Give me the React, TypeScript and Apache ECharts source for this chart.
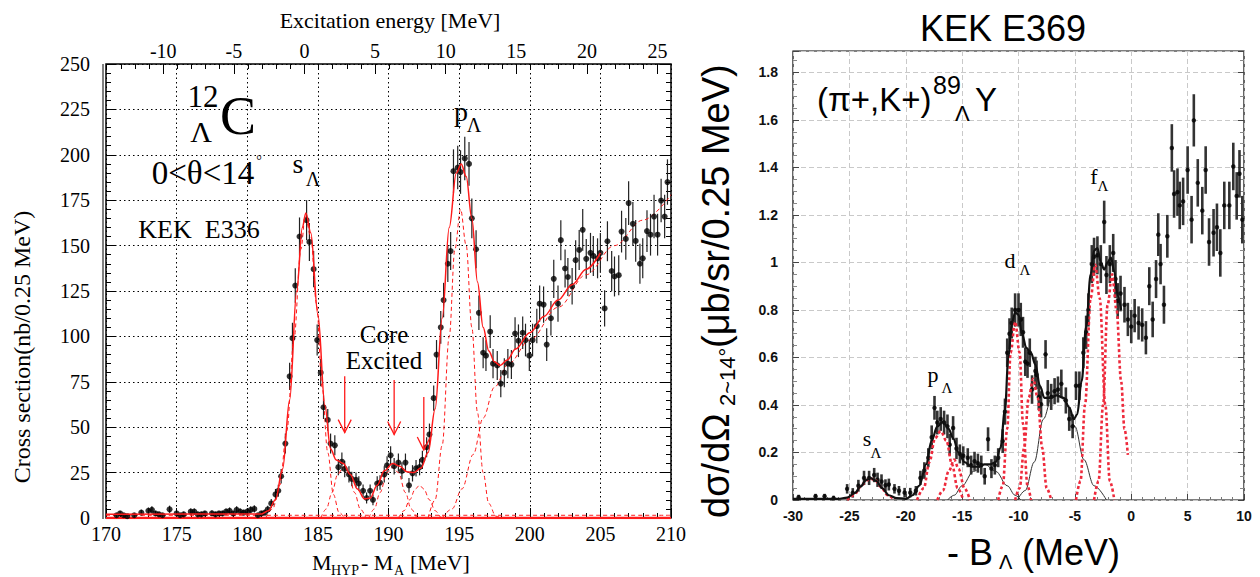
import React, { useEffect, useRef } from "react";
import * as echarts from "echarts";

// ---------- LEFT PANEL DATA (12C, KEK E336) ----------
// [M_HYP - M_A (MeV), cross section (nb/0.25 MeV), error]
const leftPoints: number[][] = [
  [170.75, 1.5, 1.2], [171.0, 2.5, 1.5], [171.25, 1.5, 1.2], [171.5, 1.0, 1.0], [172.0, 1.5, 1.2],
  [172.5, 3.0, 1.6], [173.0, 4.0, 1.8], [173.25, 4.5, 2.0], [173.5, 2.5, 1.5], [173.75, 2.0, 1.4],
  [174.0, 1.5, 1.2], [174.5, 4.8, 2.0], [175.0, 2.5, 1.5], [175.25, 1.5, 1.2], [175.5, 2.0, 1.4],
  [176.0, 3.5, 1.7], [176.25, 3.5, 1.7], [176.5, 2.0, 1.4], [176.75, 2.0, 1.4], [177.0, 2.5, 1.5],
  [177.5, 2.6, 1.5], [177.75, 2.0, 1.4], [178.0, 2.5, 1.5], [178.25, 2.5, 1.5], [178.5, 3.5, 1.7],
  [178.75, 4.0, 1.8], [179.0, 2.5, 1.5], [179.25, 4.5, 2.0], [179.5, 3.5, 1.7], [179.75, 3.0, 1.6],
  [180.0, 3.5, 1.7], [180.25, 4.5, 2.0], [180.5, 5.0, 2.0], [180.75, 1.5, 1.2], [181.0, 2.5, 1.5],
  [181.25, 3.0, 1.6],
  [181.45, 4.7, 2], [181.7, 8, 2.5], [182.0, 13, 3], [182.2, 15, 3.3], [182.4, 23, 4], [182.7, 41, 5.5],
  [183.0, 78, 7.5], [183.2, 99, 8.5], [183.4, 128, 9.5], [183.7, 155, 10.5], [184.2, 164, 11],
  [184.4, 152, 10.5], [184.7, 137, 10], [184.95, 98, 8.5], [185.2, 80, 7.5], [185.4, 61, 6.5],
  [185.7, 54, 6], [185.9, 41, 5.5], [186.2, 40, 5.5], [186.45, 28, 4.5], [186.7, 31, 5], [186.9, 27, 4.5],
  [187.2, 24, 4.5], [187.4, 21.5, 4], [187.7, 21, 4], [187.9, 19, 4], [188.2, 15, 3.5], [188.45, 11, 3],
  [188.7, 15, 3.5], [188.9, 10, 3], [189.2, 19, 4], [189.4, 19.5, 4], [189.7, 24, 4.5], [189.9, 29, 5],
  [190.15, 34.5, 5], [190.4, 28.5, 4.5], [190.7, 30.5, 5], [190.95, 26, 4.5], [191.2, 30.5, 5],
  [191.45, 18, 4], [191.7, 24.6, 4.5], [191.95, 27.4, 4.5], [192.2, 28, 4.5], [192.4, 32, 5],
  [192.7, 39, 5.5], [192.9, 46, 6], [193.2, 66, 7], [193.4, 90, 8], [193.7, 105, 9], [193.9, 120, 9.5],
  [194.2, 140, 10], [194.4, 147, 10.5], [194.6, 191, 12], [194.9, 193, 12], [195.1, 190.5, 12],
  [195.4, 198, 12], [195.7, 195, 12], [195.9, 165, 11], [196.2, 148, 10.5], [196.4, 113, 9.5],
  [196.7, 91, 8.5], [196.9, 89.4, 8.5], [197.2, 102.6, 9], [197.4, 85, 8], [197.7, 84, 8],
  [197.95, 74, 7.5], [198.2, 80, 8], [198.45, 85, 8], [198.7, 84.5, 8], [198.96, 101.6, 9],
  [199.2, 97.6, 9], [199.5, 102, 9], [199.7, 98, 9], [199.97, 89.4, 8.5], [200.2, 98, 9],
  [200.5, 105.7, 9.5], [200.7, 118, 10], [200.98, 117.5, 10], [201.2, 95.5, 9], [201.5, 110, 9.5],
  [201.7, 131.7, 10.5], [202.0, 118, 10], [202.2, 153, 11], [202.5, 137.4, 10.5], [202.7, 132.7, 10.5],
  [203.0, 127.6, 10], [203.25, 142, 11], [203.5, 147.6, 11], [203.75, 158.7, 11.5], [204.0, 142.7, 11],
  [204.3, 146, 11], [204.5, 144.3, 11], [204.8, 143, 11], [205.0, 146, 11], [205.3, 115.4, 10],
  [205.5, 152.4, 11], [205.8, 136, 11], [206.0, 133, 11], [206.3, 133.7, 11], [206.5, 157.7, 11.5],
  [206.8, 153.7, 11.5], [207.0, 173.4, 12], [207.3, 162, 12], [207.5, 152.6, 11.5], [207.8, 140, 11],
  [208.0, 143, 11], [208.3, 158, 11.5], [208.55, 156, 11.5], [208.8, 166, 12], [209.05, 156, 11.5],
  [209.3, 174.8, 12], [209.55, 166, 12], [209.75, 185, 12.5],
];

const leftFitTotal: number[][] = [
  [170, 2], [181, 2.2], [181.5, 4], [182, 10], [182.5, 27], [183, 65], [183.5, 125], [183.9, 160],
  [184.15, 168], [184.5, 157], [185, 112], [185.5, 62], [185.9, 38], [186.3, 32], [186.8, 30],
  [187.3, 24], [187.8, 16], [188.3, 10.5], [188.7, 11], [189.2, 18], [189.7, 26], [190.3, 30],
  [190.8, 28.5], [191.3, 25.5], [191.8, 25], [192.3, 27.5], [192.8, 36], [193.3, 60], [193.8, 110],
  [194.3, 160], [194.8, 190], [195.15, 195], [195.5, 188], [195.9, 165], [196.3, 130], [196.7, 105],
  [197.1, 92], [197.5, 86], [197.9, 84], [198.4, 87], [199, 93], [200, 102], [201, 111], [202, 120],
  [203, 128.5], [204, 137], [205, 146],
];
const leftCompS: number[][] = [
  [181.3, 0], [181.8, 5], [182.3, 18], [182.8, 48], [183.3, 98], [183.8, 148], [184.1, 166], [184.5, 155],
  [184.9, 118], [185.3, 72], [185.7, 36], [186.1, 13], [186.5, 3], [186.9, 0],
];
const leftCore1: number[][] = [
  [185.2, 0], [185.6, 5], [186.0, 14], [186.4, 24], [186.8, 28], [187.2, 24], [187.6, 14], [188.0, 5], [188.4, 0],
];
const leftCore2: number[][] = [
  [188.6, 0], [189.0, 5], [189.4, 14], [189.9, 25], [190.3, 28], [190.7, 25], [191.2, 14], [191.6, 5], [192.0, 0],
];
const leftCore3: number[][] = [
  [190.7, 0], [191.1, 4], [191.5, 10], [191.9, 16], [192.2, 18], [192.5, 16], [192.9, 10], [193.3, 4], [193.7, 0],
];
const leftCompP: number[][] = [
  [192.8, 0], [193.3, 10], [193.8, 40], [194.3, 100], [194.7, 148], [195.1, 170], [195.5, 150],
  [195.9, 105], [196.3, 58], [196.7, 25], [197.1, 8], [197.6, 1], [198, 0],
];
const leftBackground: number[][] = [
  [193.8, 0], [194.5, 5], [195.2, 16], [196, 35], [196.7, 55], [197.5, 72], [198.5, 85], [200, 98],
  [202, 116], [204, 134], [206, 150], [208, 164], [210, 178],
];
const leftFlat: number[][] = [[170, 1.5], [210, 1.5]];
const leftZero: number[][] = [[170, 0], [210, 0]];
// arrows: [M, top value, tip value]
const leftArrows: number[][] = [[186.9, 78, 47], [190.4, 76, 46], [192.5, 66.6, 37.4]];

const leftXTicks = [170, 175, 180, 185, 190, 195, 200, 205, 210];
const topLabels = [-10, -5, 0, 5, 10, 15, 20, 25];
const topMinor = [-14, -13, -12, -11, -10, -9, -8, -7, -6, -5, -4, -3, -2, -1, 0, 1, 2, 3, 4, 5, 6, 7, 8, 9, 10,
  11, 12, 13, 14, 15, 16, 17, 18, 19, 20, 21, 22, 23, 24, 25];

// ---------- RIGHT PANEL DATA (89Y, KEK E369) ----------
// [-B_Lambda (MeV), dsigma/dOmega (ub/sr/0.25MeV), error]
const rightPoints: number[][] = [
  [-29.5, 0.012, 0.01], [-28, 0.016, 0.01], [-27.2, 0.016, 0.01], [-26.4, 0.008, 0.01], [-25.2, 0.047, 0.02],
  [-24.7, 0.03, 0.02], [-24.2, 0.06, 0.025], [-23.7, 0.093, 0.03], [-23.25, 0.093, 0.03], [-22.8, 0.105, 0.03],
  [-22.5, 0.085, 0.03], [-22.15, 0.078, 0.03], [-21.8, 0.062, 0.025], [-21.5, 0.065, 0.025], [-21.0, 0.047, 0.02],
  [-20.6, 0.039, 0.02], [-20.1, 0.031, 0.02], [-19.6, 0.031, 0.02], [-19.1, 0.039, 0.02], [-18.7, 0.093, 0.03],
  [-18.35, 0.124, 0.035], [-18.0, 0.178, 0.04], [-17.7, 0.264, 0.05], [-17.45, 0.388, 0.05], [-17.2, 0.326, 0.05],
  [-16.9, 0.341, 0.05], [-16.6, 0.326, 0.05], [-16.3, 0.31, 0.05], [-16.1, 0.233, 0.045], [-15.8, 0.303, 0.05],
  [-15.5, 0.217, 0.045], [-15.2, 0.194, 0.04], [-14.9, 0.186, 0.04], [-14.5, 0.178, 0.04], [-14.2, 0.147, 0.04],
  [-13.9, 0.163, 0.04], [-13.6, 0.155, 0.04], [-13.3, 0.147, 0.04], [-13.0, 0.1, 0.035], [-12.7, 0.256, 0.05],
  [-12.4, 0.132, 0.04], [-12.1, 0.147, 0.04], [-11.8, 0.178, 0.04], [-11.4, 0.248, 0.05], [-11.2, 0.372, 0.055],
  [-11.0, 0.62, 0.06], [-10.8, 0.7, 0.065], [-10.6, 0.745, 0.065], [-10.3, 0.8, 0.07], [-10.0, 0.8, 0.07],
  [-9.8, 0.76, 0.07], [-9.6, 0.706, 0.065], [-9.4, 0.582, 0.06], [-9.2, 0.574, 0.06], [-9.0, 0.62, 0.06],
  [-8.8, 0.465, 0.06], [-8.5, 0.543, 0.06], [-8.4, 0.527, 0.06], [-8.2, 0.434, 0.055], [-8.0, 0.403, 0.055],
  [-7.6, 0.613, 0.06], [-7.4, 0.45, 0.055], [-7.1, 0.434, 0.055], [-6.8, 0.458, 0.055], [-6.5, 0.465, 0.055],
  [-6.2, 0.489, 0.06], [-5.8, 0.419, 0.055], [-5.5, 0.341, 0.05], [-5.2, 0.31, 0.05], [-4.9, 0.481, 0.06],
  [-4.6, 0.481, 0.06], [-4.25, 0.62, 0.065], [-4.0, 0.706, 0.07], [-3.8, 0.8, 0.07], [-3.5, 0.993, 0.08],
  [-3.3, 1.024, 0.08], [-3.0, 1.03, 0.08], [-2.7, 0.993, 0.08], [-2.4, 1.17, 0.09], [-2.2, 0.947, 0.08],
  [-1.9, 0.993, 0.08], [-1.6, 1.04, 0.08], [-1.4, 0.93, 0.08], [-1.2, 0.838, 0.075], [-0.95, 0.869, 0.075],
  [-0.6, 0.822, 0.075], [-0.3, 0.76, 0.07], [0.0, 0.73, 0.07], [0.3, 0.776, 0.07], [0.65, 0.745, 0.07],
  [0.97, 0.737, 0.07], [1.3, 0.683, 0.07], [1.6, 0.9, 0.08], [1.9, 0.76, 0.075], [2.2, 0.93, 0.08],
  [2.4, 1.117, 0.09], [2.6, 0.993, 0.085], [2.9, 0.822, 0.08], [3.2, 1.11, 0.09], [3.6, 1.482, 0.1],
  [3.8, 1.288, 0.1], [4.1, 1.296, 0.1], [4.3, 1.24, 0.1], [4.6, 1.257, 0.1], [5.0, 1.389, 0.1],
  [5.35, 1.18, 0.1], [5.55, 1.598, 0.11], [5.9, 1.335, 0.1], [6.3, 1.218, 0.1], [6.6, 1.389, 0.1],
  [6.9, 1.086, 0.1], [7.3, 1.125, 0.1], [7.6, 1.148, 0.1], [7.9, 1.04, 0.1], [8.25, 1.24, 0.1],
  [8.7, 1.24, 0.1], [9.05, 1.404, 0.1], [9.35, 1.28, 0.1], [9.6, 1.373, 0.1], [9.85, 1.18, 0.1],
];

const rightFitTotal: number[][] = [
  [-30, 0.005], [-26, 0.005], [-25.2, 0.01], [-24.5, 0.03], [-24, 0.057], [-23.5, 0.085], [-23.1, 0.092],
  [-22.6, 0.08], [-22.1, 0.05], [-21.5, 0.02], [-20.8, 0.008], [-20, 0.005], [-19.4, 0.02], [-18.8, 0.06],
  [-18.2, 0.15], [-17.7, 0.25], [-17.2, 0.31], [-16.7, 0.33], [-16.2, 0.3], [-15.8, 0.26], [-15.3, 0.2],
  [-14.8, 0.16], [-14.2, 0.14], [-13.6, 0.14], [-13, 0.15], [-12.5, 0.15], [-12, 0.16], [-11.6, 0.22],
  [-11.2, 0.38], [-10.9, 0.6], [-10.6, 0.74], [-10.3, 0.79], [-10.0, 0.78], [-9.7, 0.7], [-9.3, 0.64],
  [-8.9, 0.62], [-8.5, 0.57], [-8.1, 0.48], [-7.7, 0.43], [-7.2, 0.43], [-6.6, 0.44], [-6.0, 0.43],
  [-5.5, 0.39], [-5.1, 0.34], [-4.8, 0.36], [-4.4, 0.5], [-4.0, 0.73], [-3.6, 0.95], [-3.3, 1.05],
  [-3.0, 1.06], [-2.7, 1.0], [-2.4, 0.97], [-2.1, 1.0], [-1.8, 1.02], [-1.5, 0.96], [-1.2, 0.86], [-0.9, 0.8],
];
const rightCompS: number[][] = [
  [-25.2, 0], [-24.6, 0.02], [-24, 0.055], [-23.5, 0.083], [-23.1, 0.09], [-22.7, 0.083], [-22.2, 0.055], [-21.6, 0.02], [-21, 0],
];
const rightCompP1: number[][] = [
  [-19, 0], [-18.4, 0.05], [-17.9, 0.16], [-17.4, 0.26], [-16.9, 0.29], [-16.4, 0.25], [-15.9, 0.15], [-15.4, 0.05], [-14.9, 0],
];
const rightCompP2: number[][] = [
  [-17.2, 0], [-16.7, 0.04], [-16.2, 0.12], [-15.7, 0.17], [-15.3, 0.13], [-14.8, 0.05], [-14.3, 0],
];
const rightCompD1: number[][] = [
  [-11.8, 0], [-11.4, 0.06], [-11.0, 0.3], [-10.7, 0.62], [-10.3, 0.75], [-9.9, 0.62], [-9.6, 0.32], [-9.2, 0.06], [-8.9, 0],
];
const rightCompD2: number[][] = [
  [-10.3, 0], [-9.9, 0.05], [-9.5, 0.22], [-9.1, 0.43], [-8.7, 0.51], [-8.3, 0.43], [-7.9, 0.22], [-7.5, 0.05], [-7.1, 0],
];
const rightCompF1: number[][] = [
  [-4.9, 0], [-4.5, 0.08], [-4.1, 0.4], [-3.6, 0.85], [-3.2, 0.99], [-2.8, 0.85], [-2.3, 0.4], [-1.9, 0.08], [-1.5, 0],
];
const rightCompF2: number[][] = [
  [-3.3, 0], [-2.9, 0.08], [-2.5, 0.4], [-2.1, 0.82], [-1.7, 0.95], [-1.3, 0.8], [-0.9, 0.5], [-0.6, 0.3], [-0.3, 0.19],
];
const rightWideA: number[][] = [
  [-16.3, 0], [-15.7, 0.02], [-15, 0.06], [-14, 0.12], [-13, 0.15], [-12, 0.12], [-11, 0.06], [-10.3, 0.02], [-9.8, 0],
];
const rightWideB: number[][] = [
  [-10.1, 0], [-9.4, 0.04], [-8.6, 0.16], [-7.8, 0.34], [-7.0, 0.44], [-6.4, 0.45], [-5.8, 0.41], [-5.0, 0.31],
  [-4.2, 0.17], [-3.3, 0.06], [-2.2, 0],
];

const SERIF = '"Liberation Serif", "Times New Roman", serif';
const SANS = '"Liberation Sans", Arial, Helvetica, sans-serif';

function txt(text: string, x: number, y: number, size: number, family: string, extra: any = {}) {
  const align = extra.align || "center";
  return {
    type: "text",
    x,
    y,
    rotation: extra.rotation || 0,
    z: 100,
    style: {
      text,
      fontSize: size,
      fontFamily: family,
      fontWeight: extra.weight || "normal",
      fill: extra.fill || "#000",
      align,
      textAlign: align,
      verticalAlign: "middle",
      textVerticalAlign: "middle",
    },
  };
}

function errorBars(xi: number, yi: number, data: number[][], color: string, width: number) {
  return {
    type: "custom",
    xAxisIndex: xi,
    yAxisIndex: yi,
    data,
    encode: { x: 0, y: 1 },
    silent: true,
    z: 3,
    renderItem: (_p: any, api: any) => {
      const x = api.value(0);
      const y = api.value(1);
      const e = api.value(2);
      const a = api.coord([x, y - e]);
      const b = api.coord([x, y + e]);
      return {
        type: "line",
        shape: { x1: a[0], y1: a[1], x2: b[0], y2: b[1] },
        style: { stroke: color, lineWidth: width },
      };
    },
  };
}

function curve(xi: number, yi: number, data: number[][], color: string, width: number, type: any, z = 4) {
  return {
    type: "line",
    xAxisIndex: xi,
    yAxisIndex: yi,
    data,
    smooth: 0.35,
    smoothMonotone: "x",
    symbol: "none",
    showSymbol: false,
    silent: true,
    z,
    lineStyle: { color, width, type },
  };
}

const noLine = { show: false, onZero: false };

export default function App() {
  const ref = useRef<HTMLDivElement>(null);
  useEffect(() => {
    if (!ref.current) return;
    const chart = echarts.init(ref.current, undefined, { renderer: "svg" });
    const red = "#ff1a1a";
    const pink = "#ee2a3c";
    const option: any = {
      animation: false,
      backgroundColor: "#ffffff",
      grid: [
        { left: 106, top: 64, width: 565, height: 454, show: true, borderColor: "#000", borderWidth: 1.5, backgroundColor: "transparent" },
        { left: 793, top: 51, width: 451, height: 449, show: true, borderColor: "#000", borderWidth: 1.2, backgroundColor: "transparent" },
      ],
      xAxis: [
        {
          gridIndex: 0, type: "value", position: "bottom", min: 170, max: 210, interval: 5,
          axisLine: noLine,
          axisTick: { show: true, inside: true, length: 10, lineStyle: { color: "#000" } },
          minorTick: { show: true, splitNumber: 5, length: 5, lineStyle: { color: "#000" } },
          axisLabel: { fontFamily: SERIF, fontSize: 20, color: "#000", margin: 6, customValues: leftXTicks },
          splitLine: { show: true, lineStyle: { color: "#000", width: 1, type: [1.5, 3] } },
        },
        {
          gridIndex: 0, type: "value", position: "top", min: -14.05, max: 25.95,
          axisLine: noLine,
          axisTick: { show: true, inside: true, length: 10, customValues: topLabels, lineStyle: { color: "#000" } },
          axisLabel: { fontFamily: SERIF, fontSize: 20, color: "#000", margin: 3, customValues: topLabels },
          splitLine: { show: false },
        },
        {
          gridIndex: 0, type: "value", position: "top", min: -14.05, max: 25.95,
          axisLine: noLine,
          axisTick: { show: true, inside: true, length: 5, customValues: topMinor, lineStyle: { color: "#000" } },
          axisLabel: { show: false },
          splitLine: { show: false },
        },
        {
          gridIndex: 1, type: "value", position: "bottom", min: -30, max: 10, interval: 5,
          axisLine: noLine,
          axisTick: { show: true, inside: true, length: 6, lineStyle: { color: "#444" } },
          minorTick: { show: true, splitNumber: 5, length: 3, lineStyle: { color: "#777" } },
          axisLabel: { fontFamily: SANS, fontWeight: "bold", fontSize: 14, color: "#111", margin: 9 },
          splitLine: { show: true, lineStyle: { color: "#c9c9c9", width: 1, type: [5, 3] } },
        },
      ],
      yAxis: [
        {
          gridIndex: 0, type: "value", position: "left", min: 0, max: 250, interval: 25,
          axisLine: noLine,
          axisTick: { show: true, inside: true, length: 10, lineStyle: { color: "#000" } },
          minorTick: { show: true, splitNumber: 5, length: 5, lineStyle: { color: "#000" } },
          axisLabel: { fontFamily: SERIF, fontSize: 20, color: "#000", margin: 16 },
          splitLine: { show: true, lineStyle: { color: "#000", width: 1, type: [1.5, 3] } },
        },
        {
          gridIndex: 0, type: "value", position: "right", min: 0, max: 250, interval: 25,
          axisLine: noLine,
          axisTick: { show: true, inside: true, length: 10, lineStyle: { color: "#000" } },
          minorTick: { show: true, splitNumber: 5, length: 5, lineStyle: { color: "#000" } },
          axisLabel: { show: false },
          splitLine: { show: false },
        },
        {
          gridIndex: 1, type: "value", position: "left", min: 0, max: 1.89, interval: 0.2,
          axisLine: noLine,
          axisTick: { show: true, inside: true, length: 6, lineStyle: { color: "#444" } },
          minorTick: { show: true, splitNumber: 4, length: 4, lineStyle: { color: "#888" } },
          axisLabel: {
            fontFamily: SANS, fontWeight: "bold", fontSize: 14, color: "#111", margin: 15,
            formatter: (v: number) => (Math.abs(v * 5 - Math.round(v * 5)) < 1e-6 ? String(+v.toFixed(1)) : ""),
          },
          splitLine: { show: true, lineStyle: { color: "#c9c9c9", width: 1, type: [5, 3] } },
        },
        {
          gridIndex: 1, type: "value", position: "right", min: 0, max: 1.89, interval: 0.2,
          axisLine: noLine,
          axisTick: { show: true, inside: true, length: 6, lineStyle: { color: "#444" } },
          minorTick: { show: true, splitNumber: 4, length: 4, lineStyle: { color: "#888" } },
          axisLabel: { show: false },
          splitLine: { show: false },
        },
      ],
      series: [
        // ---- left panel ----
        curve(0, 0, leftZero, red, 2.5, "solid", 4),
        curve(0, 0, leftFlat, red, 1, [4, 3], 4),
        curve(0, 0, leftCompS, red, 1, [4, 3], 4),
        curve(0, 0, leftCore1, red, 1, [4, 3], 4),
        curve(0, 0, leftCore2, red, 1, [4, 3], 4),
        curve(0, 0, leftCore3, red, 1, [4, 3], 4),
        curve(0, 0, leftCompP, red, 1, [4, 3], 4),
        curve(0, 0, leftBackground, red, 1, [4, 3], 4),
        errorBars(0, 0, leftPoints, "#222", 1.2),
        {
          type: "scatter", xAxisIndex: 0, yAxisIndex: 0, silent: true, z: 5,
          data: leftPoints.map((p) => [p[0], p[1]]),
          symbol: "circle", symbolSize: 6, itemStyle: { color: "#000" },
        },
        curve(0, 0, leftFitTotal, red, 1.5, "solid", 6),
        {
          type: "custom", xAxisIndex: 0, yAxisIndex: 0, data: leftArrows, encode: { x: 0, y: 1 }, silent: true, z: 7,
          renderItem: (_p: any, api: any) => {
            const x = api.value(0);
            const a = api.coord([x, api.value(1)]);
            const b = api.coord([x, api.value(2)]);
            return {
              type: "group",
              children: [
                { type: "line", shape: { x1: a[0], y1: a[1], x2: b[0], y2: b[1] }, style: { stroke: red, lineWidth: 1.3 } },
                {
                  type: "polyline",
                  shape: { points: [[b[0] - 6.5, b[1] - 13], [b[0], b[1]], [b[0] + 6.5, b[1] - 13]] },
                  style: { stroke: red, lineWidth: 1.3, fill: "none" },
                },
              ],
            };
          },
        },
        // ---- right panel ----
        curve(3, 2, rightWideA, "#333", 1, "solid", 4),
        curve(3, 2, rightWideB, "#333", 1, "solid", 4),
        errorBars(3, 2, rightPoints, "#333", 2.6),
        {
          type: "scatter", xAxisIndex: 3, yAxisIndex: 2, silent: true, z: 5,
          data: rightPoints.map((p) => [p[0], p[1]]),
          symbol: "circle", symbolSize: 4.5, itemStyle: { color: "#000" },
        },
        curve(3, 2, rightCompS, pink, 2.6, [3, 2.5], 6),
        curve(3, 2, rightCompP1, pink, 2.6, [3, 2.5], 6),
        curve(3, 2, rightCompP2, pink, 2.6, [3, 2.5], 6),
        curve(3, 2, rightCompD1, pink, 2.6, [3, 2.5], 6),
        curve(3, 2, rightCompD2, pink, 2.6, [3, 2.5], 6),
        curve(3, 2, rightCompF1, pink, 2.6, [3, 2.5], 6),
        curve(3, 2, rightCompF2, pink, 2.6, [3, 2.5], 6),
        curve(3, 2, rightFitTotal, "#111", 2.2, "solid", 7),
      ],
      graphic: [
        // left panel frame double line
        { type: "line", shape: { x1: 103, y1: 64, x2: 103, y2: 519 }, style: { stroke: "#000", lineWidth: 1 }, z: 50 },
        // left panel texts
        txt("Excitation energy [MeV]", 390, 20, 22, SERIF),
        txt("Cross section(nb/0.25 MeV)", 22, 347, 24, SERIF, { rotation: Math.PI / 2 }),
        txt("M", 312, 562, 22, SERIF, { align: "left" }),
        txt("HYP", 331, 570, 14, SERIF, { align: "left" }),
        txt("- M", 361, 562, 22, SERIF, { align: "left" }),
        txt("A", 394, 570, 14, SERIF, { align: "left" }),
        txt("[MeV]", 410, 562, 22, SERIF, { align: "left" }),
        txt("12", 203, 96, 31, SERIF),
        txt("Λ", 201, 131, 30, SERIF),
        txt("C", 238, 116, 54, SERIF),
        txt("0<θ<14", 203, 173, 33, SERIF),
        txt("°", 259, 160, 14, SERIF),
        txt("KEK  E336", 199, 229, 26, SERIF),
        txt("s", 298, 163, 28, SERIF),
        txt("Λ", 313, 179, 20, SERIF),
        txt("p", 461, 111, 28, SERIF),
        txt("Λ", 474, 125, 20, SERIF),
        txt("Core", 384, 334, 25, SERIF),
        txt("Excited", 384, 360, 25, SERIF),
        // right panel texts
        txt("KEK E369", 1003, 28, 36, SANS),
        txt("(π+,K+)", 817, 99, 33, SANS, { align: "left" }),
        txt("89", 933, 85, 25, SANS, { align: "left" }),
        txt("Λ", 955, 113, 22, SANS, { align: "left" }),
        txt("Y", 975, 99, 33, SANS, { align: "left" }),
        txt("s", 867, 438, 22, SERIF),
        txt("Λ", 876, 453, 15, SERIF),
        txt("p", 933, 374, 22, SERIF),
        txt("Λ", 947, 388, 15, SERIF),
        txt("d", 1010, 260, 22, SERIF),
        txt("Λ", 1025, 270, 15, SERIF),
        txt("f", 1094, 176, 22, SERIF),
        txt("Λ", 1103, 186, 15, SERIF),
        txt("- B", 947, 552, 36, SANS, { align: "left" }),
        txt("Λ", 999, 562, 20, SANS, { align: "left" }),
        txt("(MeV)", 1022, 552, 36, SANS, { align: "left" }),
        {
          type: "group",
          x: 716,
          y: 518,
          rotation: Math.PI / 2,
          children: [
            txt("dσ/dΩ", 0, 0, 38, SANS, { align: "left" }),
            txt("2~14°", 112, 11, 22, SANS, { align: "left" }),
            txt("(μb/sr/0.25 MeV)", 170, 0, 38, SANS, { align: "left" }),
          ],
        },
      ],
    };
    chart.setOption(option);
    return () => chart.dispose();
  }, []);
  return (
    <div
      ref={ref}
      style={{ position: "absolute", left: 0, top: 0, width: 1260, height: 577, background: "#fff" }}
    />
  );
}
